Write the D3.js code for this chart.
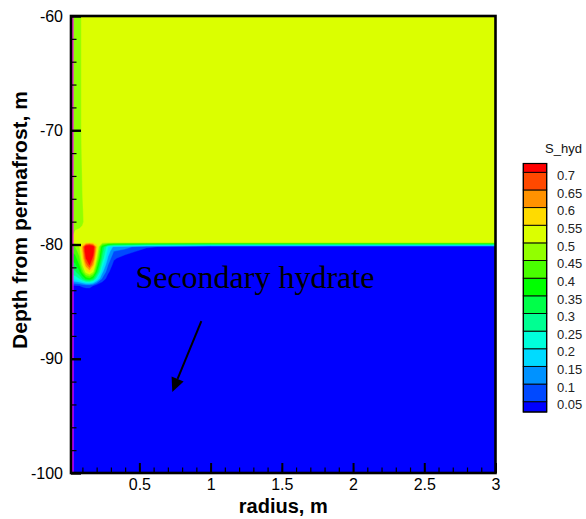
<!DOCTYPE html>
<html>
<head>
<meta charset="utf-8">
<script src="https://cdn.jsdelivr.net/npm/d3@7"></script>
<style>
  body { margin: 0; background: #fff; }
  svg { display: block; }
</style>
</head>
<body>
<svg id="chart" width="586" height="519"></svg>
<script>
// Radial grid nodes (m) and depth grid nodes (m) of the S_hyd field
const radii  = [0.02, 0.05, 0.08, 0.10, 0.125, 0.15, 0.175, 0.20, 0.24, 0.28, 0.32, 0.40, 0.55, 1.0, 2.0, 3.0];
const depths = [-60, -70, -78, -79, -79.8, -80.2, -80.6, -81.2, -81.8, -82.4, -83.0, -83.6, -84.3, -86, -93, -100];

// Hydrate saturation, one row per depth node, one column per radial node
const sHyd = [
  [0.47, 0.47, 0.47, 0.52, 0.52, 0.52, 0.52, 0.52, 0.52, 0.52, 0.52, 0.52, 0.52, 0.52, 0.52, 0.52],
  [0.47, 0.47, 0.47, 0.52, 0.52, 0.52, 0.52, 0.52, 0.52, 0.52, 0.52, 0.52, 0.52, 0.52, 0.52, 0.52],
  [0.47, 0.47, 0.47, 0.49, 0.52, 0.52, 0.52, 0.52, 0.52, 0.52, 0.52, 0.52, 0.52, 0.52, 0.52, 0.52],
  [0.47, 0.51, 0.52, 0.52, 0.52, 0.52, 0.52, 0.52, 0.52, 0.52, 0.52, 0.52, 0.52, 0.52, 0.52, 0.52],
  [0.52, 0.52, 0.52, 0.52, 0.52, 0.52, 0.52, 0.52, 0.52, 0.52, 0.52, 0.52, 0.52, 0.52, 0.52, 0.52],
  [0.42, 0.45, 0.50, 0.60, 0.76, 0.80, 0.74, 0.58, 0.35, 0.20, 0.14, 0.12, 0.06, 0, 0, 0],
  [0.40, 0.42, 0.48, 0.58, 0.75, 0.80, 0.73, 0.55, 0.32, 0.18, 0.10, 0.08, 0.02, 0, 0, 0],
  [0.36, 0.38, 0.44, 0.55, 0.70, 0.76, 0.68, 0.50, 0.28, 0.14, 0.06, 0.02, 0, 0, 0, 0],
  [0.32, 0.34, 0.40, 0.50, 0.62, 0.70, 0.60, 0.43, 0.22, 0.10, 0.03, 0, 0, 0, 0, 0],
  [0.27, 0.29, 0.34, 0.42, 0.52, 0.56, 0.50, 0.35, 0.16, 0.06, 0.01, 0, 0, 0, 0, 0],
  [0.20, 0.22, 0.25, 0.30, 0.36, 0.38, 0.33, 0.22, 0.09, 0.02, 0, 0, 0, 0, 0, 0],
  [0.04, 0.045, 0.05, 0.06, 0.07, 0.07, 0.05, 0.02, 0, 0, 0, 0, 0, 0, 0, 0],
  [0, 0, 0, 0, 0, 0, 0, 0, 0, 0, 0, 0, 0, 0, 0, 0],
  [0, 0, 0, 0, 0, 0, 0, 0, 0, 0, 0, 0, 0, 0, 0, 0],
  [0, 0, 0, 0, 0, 0, 0, 0, 0, 0, 0, 0, 0, 0, 0, 0],
  [0, 0, 0, 0, 0, 0, 0, 0, 0, 0, 0, 0, 0, 0, 0, 0]
];

// Contour levels and the flood colour of each band (below first level ... above last)
const levels = [0.05, 0.1, 0.15, 0.2, 0.25, 0.3, 0.35, 0.4, 0.45, 0.5, 0.55, 0.6, 0.65, 0.7];
const bandColors = ["#0000FF", "#0049FF", "#0092FF", "#00DBFF", "#00FFDB", "#00FF92", "#00FF49",
                    "#00FF00", "#49FF00", "#92FF00", "#DBFF00", "#FFDB00", "#FF9200", "#FF4900", "#FF0000"];

const xMajorTicks = [0.5, 1, 1.5, 2, 2.5, 3];
const xMinorTicks = d3.range(1, 30).map(i => i / 10);
const yMajorTicks = [-60, -70, -80, -90, -100];
const yMinorTicks = d3.range(-98, -60, 2);

const wellRadius = 0.033;
const noteText = "Secondary hydrate";
const noteAnchor = { r: 0.472, z: -83.8 };
const arrowFrom = { r: 0.935, z: -86.7 };
const arrowTo = { r: 0.731, z: -92.9 };

// ---- layout ----
const svg = d3.select("#chart");
const plot = { left: 71, right: 495.5, top: 16, bottom: 473 };

const x = d3.scaleLinear().domain([0.02, 3]).range([plot.left, plot.right]);
const y = d3.scaleLinear().domain([-60, -100]).range([plot.top, plot.bottom]);

svg.append("defs").append("clipPath").attr("id", "plotClip")
  .append("rect")
  .attr("x", plot.left).attr("y", plot.top)
  .attr("width", plot.right - plot.left).attr("height", plot.bottom - plot.top);

const field = svg.append("g").attr("clip-path", "url(#plotClip)");

// lowest band as background
field.append("rect")
  .attr("x", plot.left).attr("y", plot.top)
  .attr("width", plot.right - plot.left).attr("height", plot.bottom - plot.top)
  .attr("fill", bandColors[0]);

// contour bands on the (non-uniform) grid: grid index -> physical coordinate -> pixel
const nx = radii.length, ny = depths.length;
const gridR = d3.scaleLinear().domain(d3.range(nx).map(i => i + 0.5)).range(radii).clamp(true);
const gridZ = d3.scaleLinear().domain(d3.range(ny).map(j => j + 0.5)).range(depths).clamp(true);
const toPixels = d3.geoTransform({
  point(px, py) { this.stream.point(x(gridR(px)), y(gridZ(py))); }
});
const bandPath = d3.geoPath(toPixels);

const bands = d3.contours().size([nx, ny]).thresholds(levels)(sHyd.flat());
field.selectAll("path.band")
  .data(bands)
  .join("path")
  .attr("class", "band")
  .attr("d", bandPath)
  .attr("fill", (d, i) => bandColors[i + 1])
  .attr("stroke", (d, i) => bandColors[i + 1])
  .attr("stroke-width", 0.4);

// well wall
field.append("line")
  .attr("x1", x(wellRadius)).attr("x2", x(wellRadius))
  .attr("y1", plot.top).attr("y2", plot.bottom)
  .attr("stroke", "#FF00FF").attr("stroke-width", 1.4);

// ---- axes ----
const axisFont = "Arial, 'Liberation Sans', Helvetica, sans-serif";
const plainNumber = d => String(d);

const xMinor = svg.append("g").attr("transform", `translate(0,${plot.bottom})`)
  .call(d3.axisBottom(x).tickValues(xMinorTicks).tickFormat("").tickSizeInner(-5.5).tickSizeOuter(0));
xMinor.selectAll("line").attr("stroke", "#000").attr("stroke-width", 1.2);

const xMajor = svg.append("g").attr("transform", `translate(0,${plot.bottom})`)
  .call(d3.axisBottom(x).tickValues(xMajorTicks).tickFormat(plainNumber).tickSizeInner(-10).tickSizeOuter(0).tickPadding(6));
xMajor.selectAll("line").attr("stroke", "#000").attr("stroke-width", 2);
xMajor.selectAll("text").attr("fill", "#000").style("font", `16px ${axisFont}`);

const yMinor = svg.append("g").attr("transform", `translate(${plot.left},0)`)
  .call(d3.axisLeft(y).tickValues(yMinorTicks).tickFormat("").tickSizeInner(-5.5).tickSizeOuter(0));
yMinor.selectAll("line").attr("stroke", "#000").attr("stroke-width", 1.2);

const yMajor = svg.append("g").attr("transform", `translate(${plot.left},0)`)
  .call(d3.axisLeft(y).tickValues(yMajorTicks).tickFormat(plainNumber).tickSizeInner(-10).tickSizeOuter(0).tickPadding(8));
yMajor.selectAll("line").attr("stroke", "#000").attr("stroke-width", 2.4);
yMajor.selectAll("text").attr("fill", "#000").style("font", `16px ${axisFont}`);

svg.selectAll(".domain").remove();

// frame
svg.append("rect")
  .attr("x", plot.left).attr("y", plot.top)
  .attr("width", plot.right - plot.left).attr("height", plot.bottom - plot.top)
  .attr("fill", "none").attr("stroke", "#000").attr("stroke-width", 2.6);

// axis titles
svg.append("text")
  .attr("x", (plot.left + plot.right) / 2).attr("y", 513)
  .attr("text-anchor", "middle")
  .style("font", `bold 20px ${axisFont}`)
  .text("radius, m");

svg.append("text")
  .attr("transform", "translate(27,220) rotate(-90)")
  .attr("text-anchor", "middle")
  .style("font", `bold 21px ${axisFont}`)
  .text("Depth from permafrost, m");

// ---- annotation ----
svg.append("text")
  .attr("x", x(noteAnchor.r)).attr("y", y(noteAnchor.z))
  .style("font", "32px 'Liberation Serif', 'Times New Roman', serif")
  .attr("fill", "#000")
  .text(noteText);

const ax0 = x(arrowFrom.r), ay0 = y(arrowFrom.z), ax1 = x(arrowTo.r), ay1 = y(arrowTo.z);
const ang = Math.atan2(ay1 - ay0, ax1 - ax0);
const headLen = 14, headHalf = 6.5;
const bx = ax1 - headLen * Math.cos(ang), by = ay1 - headLen * Math.sin(ang);
svg.append("line")
  .attr("x1", ax0).attr("y1", ay0).attr("x2", bx).attr("y2", by)
  .attr("stroke", "#000").attr("stroke-width", 2);
svg.append("path")
  .attr("d", d3.line()([
    [ax1, ay1],
    [bx + headHalf * Math.sin(ang), by - headHalf * Math.cos(ang)],
    [bx - headHalf * Math.sin(ang), by + headHalf * Math.cos(ang)]
  ]) + "Z")
  .attr("fill", "#000");

// ---- legend ----
const legend = svg.append("g");
const legendY = d3.scaleLinear().domain([0.7, 0.05]).range([172.3, 401.7]);
const legendX0 = 523.3, legendX1 = 546.7;
const endTop = 163.5, endBottom = 412;

legend.append("text")
  .attr("x", 545).attr("y", 153)
  .style("font", `13px ${axisFont}`)
  .attr("fill", "#111")
  .text("S_hyd");

legend.selectAll("rect.swatch")
  .data(bandColors)
  .join("rect")
  .attr("class", "swatch")
  .attr("x", legendX0)
  .attr("width", legendX1 - legendX0)
  .attr("y", (c, i) => i === levels.length ? endTop : legendY(levels[i]))
  .attr("height", (c, i) => {
    const top = i === levels.length ? endTop : legendY(levels[i]);
    const bottom = i === 0 ? endBottom : legendY(levels[i - 1]);
    return bottom - top;
  })
  .attr("fill", c => c)
  .attr("stroke", "#000")
  .attr("stroke-width", 0.9);

legend.append("rect")
  .attr("x", legendX0).attr("y", endTop)
  .attr("width", legendX1 - legendX0).attr("height", endBottom - endTop)
  .attr("fill", "none").attr("stroke", "#000").attr("stroke-width", 1.2);

legend.selectAll("text.level")
  .data(levels)
  .join("text")
  .attr("class", "level")
  .attr("x", 557)
  .attr("y", d => legendY(d) + 7.7)
  .style("font", `13px ${axisFont}`)
  .attr("fill", "#222")
  .text(d => String(d));
</script>
</body>
</html>
